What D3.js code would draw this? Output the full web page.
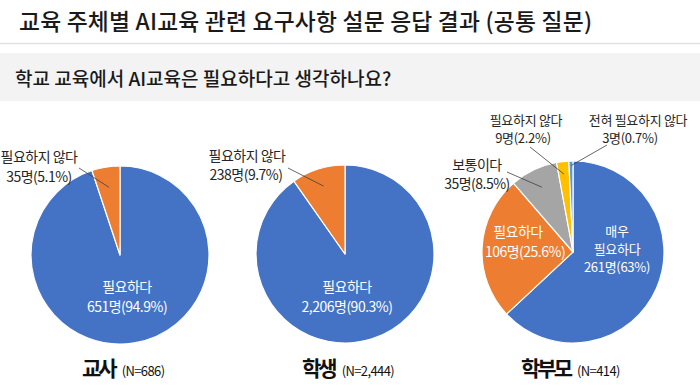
<!DOCTYPE html>
<html><head><meta charset="utf-8">
<script src="https://cdn.jsdelivr.net/npm/d3@7"></script>
<style>
body{margin:0;background:#fff;}
svg{display:block;font-family:"Noto Sans CJK KR","Noto Sans",sans-serif;}
</style></head>
<body><svg id="c" width="700" height="387"></svg>
<script>
const titleText = "교육 주체별 AI교육 관련 요구사항 설문 응답 결과 (공통 질문)";
const questionText = "학교 교육에서 AI교육은 필요하다고 생각하나요?";

const groupNames = ["교사", "학생", "학부모"];
const groupN = ["(N=686)", "(N=2,444)", "(N=414)"];

const teacherCats = ["필요하다", "필요하지 않다"];
const teacherVals = [651, 35];
const teacherPct = ["94.9%", "5.1%"];

const studentCats = ["필요하다", "필요하지 않다"];
const studentVals = [2206, 238];
const studentPct = ["90.3%", "9.7%"];

const parentCats = ["매우 필요하다", "필요하다", "보통이다", "필요하지 않다", "전혀 필요하지 않다"];
const parentVals = [261, 106, 35, 9, 3];
const parentPct = ["63%", "25.6%", "8.5%", "2.2%", "0.7%"];

const colors = ["#4472C4", "#ED7D31", "#A5A5A5", "#FFC000", "#5B9BD5"];

const svg = d3.select("#c");
const fmt = d3.format(",");

// header
svg.append("text").attr("x", 19).attr("y", 30).attr("font-size", 22.8).attr("font-weight", 500)
  .attr("letter-spacing", 0.2).attr("fill", "#1a1a1a").text(titleText);
svg.append("line").attr("x1", 0).attr("x2", 700).attr("y1", 43.5).attr("y2", 43.5)
  .attr("stroke", "#e3e3e3").attr("stroke-width", 1.5);
svg.append("rect").attr("x", 0).attr("y", 53).attr("width", 700).attr("height", 48).attr("fill", "#f3f3f3");
svg.append("text").attr("x", 15).attr("y", 86).attr("font-size", 19).attr("font-weight", 500)
  .attr("fill", "#1a1a1a").text(questionText);

const pies = [
  {cx: 120, cy: 255, r: 89, cats: teacherCats, vals: teacherVals, pct: teacherPct,
   labels: [
     {i: 0, inside: true, xs: [127, 127], y: 287, gap: 20, fs: 14, lines: ["필요하다", null]},
     {i: 1, xs: [39, 39], y: 157, gap: 20, fs: 14, lines: ["필요하지 않다", null], lx: 79, ly: 168, k: 0.77}
   ], nameX: 82},
  {cx: 345, cy: 254, r: 89, cats: studentCats, vals: studentVals, pct: studentPct,
   labels: [
     {i: 0, inside: true, xs: [347, 347], y: 287, gap: 20, fs: 14, lines: ["필요하다", null]},
     {i: 1, xs: [247, 246], y: 156, gap: 19, fs: 14, lines: ["필요하지 않다", null], lx: 288, ly: 168, k: 0.8}
   ], nameX: 302},
  {cx: 573, cy: 252, r: 91, cats: parentCats, vals: parentVals, pct: parentPct,
   labels: [
     {i: 0, inside: true, xs: [617, 617, 617], y: 231, gap: 18, fs: 13, lines: ["매우", "필요하다", null]},
     {i: 1, inside: true, xs: [518, 525], y: 232, gap: 20, fs: 14, lines: ["필요하다", null]},
     {i: 2, xs: [477, 477], y: 165, gap: 19, fs: 14, lines: ["보통이다", null], lx: 507, ly: 172, k: 0.79},
     {i: 3, xs: [526, 523], y: 120, gap: 18, fs: 13, lines: ["필요하지 않다", null], lx: 530, ly: 147, k: 0.86},
     {i: 4, xs: [638, 630], y: 120, gap: 18, fs: 13, lines: ["전혀 필요하지 않다", null], lx: 607, ly: 145, k: 0.95}
   ], nameX: 521}
];

pies.forEach((p, gi) => {
  const g = svg.append("g").attr("transform", `translate(${p.cx},${p.cy})`);
  const arcs = d3.pie().sort(null).value(d => d)(p.vals);
  const arc = d3.arc().innerRadius(0).outerRadius(p.r);
  g.selectAll("path").data(arcs).join("path")
    .attr("d", arc).attr("fill", (d, i) => colors[i])
    .attr("stroke", "#fff").attr("stroke-width", 1.2).attr("stroke-linejoin", "round");

  p.labels.forEach(L => {
    const d = arcs[L.i];
    const txt = L.lines.map(s => s === null ? `${fmt(p.vals[L.i])}명(${p.pct[L.i]})` : s);
    if (!L.inside) {
      const la = d3.arc().innerRadius(p.r * L.k).outerRadius(p.r * L.k);
      const c = la.centroid(d);
      g.append("line").attr("x1", L.lx - p.cx).attr("y1", L.ly - p.cy)
        .attr("x2", c[0]).attr("y2", c[1]).attr("stroke", "#404040").attr("stroke-width", 0.8);
    }
    txt.forEach((s, k) => {
      svg.append("text").attr("text-anchor", "middle")
        .attr("font-size", L.fs).attr("letter-spacing", L.fs < 14 ? -0.3 : -0.5)
        .attr("fill", L.inside ? "#ffffff" : "#262626")
        .attr("x", L.xs[k]).attr("y", L.y + 5 + k * L.gap).text(s);
    });
  });

  const nt = svg.append("text").attr("x", p.nameX).attr("y", 376).attr("fill", "#111");
  nt.append("tspan").attr("font-size", 21).attr("font-weight", 700).attr("letter-spacing", -3).text(groupNames[gi]);
  nt.append("tspan").attr("font-size", 13).attr("dx", 7).attr("letter-spacing", -0.6).text(groupN[gi]);
});
</script></body></html>
